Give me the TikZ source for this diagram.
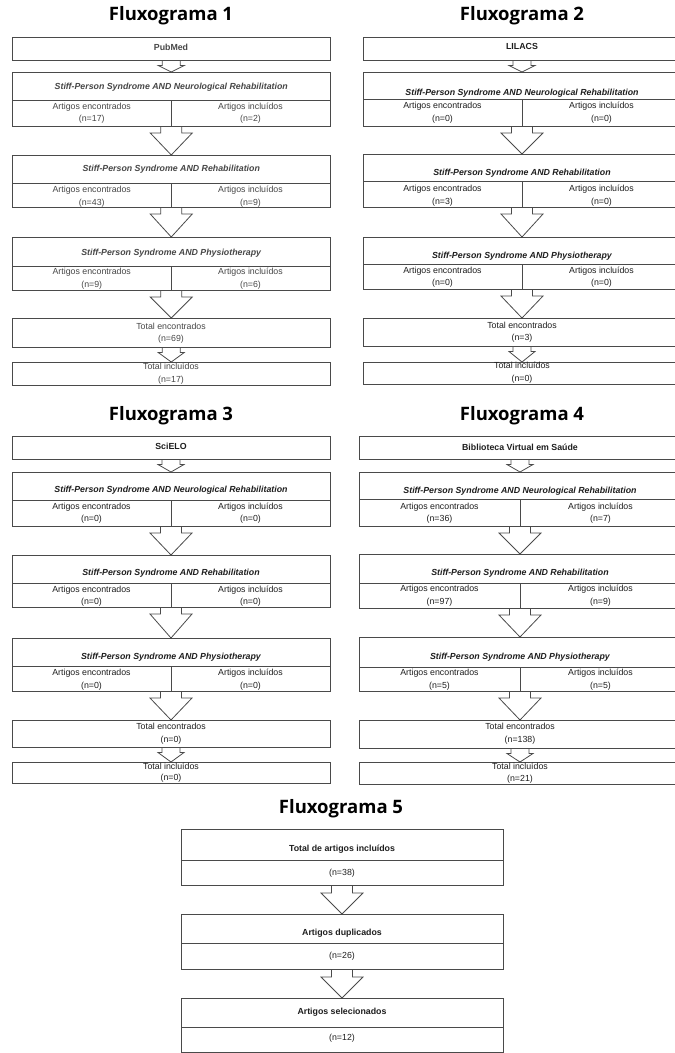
\documentclass[tikz,border=0pt]{standalone}
\usepackage{fontspec}
\setmainfont{Liberation Sans}
\newfontfamily\titlefont{Open Sans}
\usetikzlibrary{calc}
\pgfdeclarelayer{background}
\pgfsetlayers{background,main}
\definecolor{ln}{HTML}{4A4A4A}
\definecolor{tc}{HTML}{1E1E1E}
\tikzset{
  bx/.style={draw=ln, line width=0.8pt, inner sep=0pt, outer sep=0pt, rectangle},
  bl/.style={draw=ln, line width=0.8pt},
  tx/.style={font=\fontsize{8.8}{10}\selectfont, text=tc, inner sep=0pt, text height=6.3pt, text depth=1.8pt},
  ti/.style={tx, font=\fontsize{8.8}{10}\selectfont\bfseries\itshape},
  hd/.style={tx, font=\fontsize{8.8}{10}\selectfont\bfseries},
  ar/.style={draw=ln, line width=0.8pt, fill=white, line join=miter},
  ft/.style={font=\titlefont\bfseries\fontsize{18.5}{20}\selectfont, text=black, inner sep=0pt}
}
% name x1 x2 ytop ybot
\newcommand\mkbox[5]{\node[bx, anchor=north west, minimum width={(#3)-(#2)}, minimum height={(#5)-(#4)}] (#1) at (#2,#4) {};}
% name x1 xd x2 ytop ydiv ybot titley title
\newcommand\srch[9]{%
  \mkbox{#1}{#2}{#4}{#5}{#7}
  \draw[bl] (#2,#6) -- (#4,#6);
  \draw[bl] (#3,#6) -- (#3,#7);
  \node[ti] (#1-t) at ({(#2+#4)/2},#8) {#9};}
% name x1 xd x2 y1 y2 nl nr
\newcommand\cells[8]{%
  \node[tx] (#1-a) at ({(#2+#3)/2},#5) {Artigos encontrados};
  \node[tx] (#1-an) at ({(#2+#3)/2},#6) {#7};
  \node[tx] (#1-b) at ({(#3+#4)/2},#5) {Artigos incluídos};
  \node[tx] (#1-bn) at ({(#3+#4)/2},#6) {#8};}
% from to shafthalf headhalf shaftlen
\newcommand\barr[5]{%
  \draw[ar] ($(#1.south)+(-#3,0)$) -- ($(#1.south)+(-#3,#5)$) -- ($(#1.south)+(-#4,#5)$) -- (#2.north)
    -- ($(#1.south)+(#4,#5)$) -- ($(#1.south)+(#3,#5)$) -- ($(#1.south)+(#3,0)$);}
\newcommand\bigarr[2]{\barr{#1}{#2}{10.5}{21}{7}}
\newcommand\smallarr[2]{\barr{#1}{#2}{9}{13}{5.5}}
\begin{document}
\begin{tikzpicture}[x=1pt,y=-1pt]
\useasboundingbox (0,0) rectangle (675,1053);
\begin{pgfonlayer}{background}\fill[white] (0,0) rectangle (675,1053);\end{pgfonlayer}
\clip (0,0) rectangle (675,1053);

% ---------- Fluxograma 1 ----------
\begin{scope}
\colorlet{tc}{black!72}
\node[ft] (t1) at (171,16) {Fluxograma 1};
\mkbox{f1h}{12.5}{330}{37}{60}
\node[hd] (f1h-t) at (171,48) {PubMed};
\srch{f1a}{12.5}{171}{330}{72}{100}{126}{87}{Stiff-Person Syndrome AND Neurological Rehabilitation}
\cells{f1a}{12.5}{171}{330}{107}{119}{(n=17)}{(n=2)}
\srch{f1b}{12.5}{171}{330}{155}{183}{207}{169}{Stiff-Person Syndrome AND Rehabilitation}
\cells{f1b}{12.5}{171}{330}{190}{203}{(n=43)}{(n=9)}
\srch{f1c}{12.5}{171}{330}{237}{266}{290}{253}{Stiff-Person Syndrome AND Physiotherapy}
\cells{f1c}{12.5}{171}{330}{272}{285}{(n=9)}{(n=6)}
\mkbox{f1d}{12.5}{330}{318}{347}
\node[tx] (f1d-a) at (171,327) {Total encontrados};
\node[tx] (f1d-b) at (171,339) {(n=69)};
\mkbox{f1e}{12.5}{330}{362}{385}
\node[tx] (f1e-a) at (171,367) {Total incluídos};
\node[tx] (f1e-b) at (171,380) {(n=17)};
\end{scope}

% ---------- Fluxograma 2 ----------
\node[ft] (t2) at (522,16) {Fluxograma 2};
\mkbox{f2h}{363}{681}{37}{60}
\node[hd] (f2h-t) at (522,47.5) {LILACS};
\srch{f2a}{363}{522}{681}{72}{99}{126}{93}{Stiff-Person Syndrome AND Neurological Rehabilitation}
\cells{f2a}{363}{522}{681}{106.5}{119}{(n=0)}{(n=0)}
\srch{f2b}{363}{522}{681}{154}{181}{207}{173}{Stiff-Person Syndrome AND Rehabilitation}
\cells{f2b}{363}{522}{681}{189}{202}{(n=3)}{(n=0)}
\srch{f2c}{363}{522}{681}{237}{264}{289}{256}{Stiff-Person Syndrome AND Physiotherapy}
\cells{f2c}{363}{522}{681}{271}{283}{(n=0)}{(n=0)}
\mkbox{f2d}{363}{681}{318}{346}
\node[tx] (f2d-a) at (522,326) {Total encontrados};
\node[tx] (f2d-b) at (522,338) {(n=3)};
\mkbox{f2e}{363}{681}{362}{384}
\node[tx] (f2e-a) at (522,366.5) {Total incluídos};
\node[tx] (f2e-b) at (522,379) {(n=0)};

% ---------- Fluxograma 3 ----------
\node[ft] (t3) at (171,416) {Fluxograma 3};
\mkbox{f3h}{12}{330}{436}{459}
\node[hd] (f3h-t) at (171,447.5) {SciELO};
\srch{f3a}{12}{171}{330}{472}{500}{526}{490}{Stiff-Person Syndrome AND Neurological Rehabilitation}
\cells{f3a}{12}{171}{330}{507}{519}{(n=0)}{(n=0)}
\srch{f3b}{12}{171}{330}{555}{583}{607}{573}{Stiff-Person Syndrome AND Rehabilitation}
\cells{f3b}{12}{171}{330}{590}{602.5}{(n=0)}{(n=0)}
\srch{f3c}{12}{171}{330}{638}{666}{691}{657}{Stiff-Person Syndrome AND Physiotherapy}
\cells{f3c}{12}{171}{330}{673}{686}{(n=0)}{(n=0)}
\mkbox{f3d}{12}{330}{720}{747}
\node[tx] (f3d-a) at (171,727) {Total encontrados};
\node[tx] (f3d-b) at (171,740) {(n=0)};
\mkbox{f3e}{12}{330}{762}{783}
\node[tx] (f3e-a) at (171,767) {Total incluídos};
\node[tx] (f3e-b) at (171,778.5) {(n=0)};

% ---------- Fluxograma 4 ----------
\node[ft] (t4) at (522,416) {Fluxograma 4};
\mkbox{f4h}{359}{681}{436}{459}
\node[hd] (f4h-t) at (520,448) {Biblioteca Virtual em Saúde};
\srch{f4a}{359}{520}{681}{472}{499}{526}{491}{Stiff-Person Syndrome AND Neurological Rehabilitation}
\cells{f4a}{359}{520}{681}{507}{519}{(n=36)}{(n=7)}
\srch{f4b}{359}{520}{681}{554}{583}{608}{573}{Stiff-Person Syndrome AND Rehabilitation}
\cells{f4b}{359}{520}{681}{589.5}{602}{(n=97)}{(n=9)}
\srch{f4c}{359}{520}{681}{637}{667}{691}{657}{Stiff-Person Syndrome AND Physiotherapy}
\cells{f4c}{359}{520}{681}{673}{686}{(n=5)}{(n=5)}
\mkbox{f4d}{359}{681}{720}{748}
\node[tx] (f4d-a) at (520,727) {Total encontrados};
\node[tx] (f4d-b) at (520,740) {(n=138)};
\mkbox{f4e}{359}{681}{762}{784}
\node[tx] (f4e-a) at (520,767) {Total incluídos};
\node[tx] (f4e-b) at (520,779.5) {(n=21)};

% ---------- Fluxograma 5 ----------
\node[ft] (t5) at (341,809) {Fluxograma 5};
\mkbox{f5a}{181}{503}{829}{885}
\draw[bl] (181,860) -- (503,860);
\node[hd] (f5a-t) at (342,849) {Total de artigos incluídos};
\node[tx] (f5a-n) at (342,873) {(n=38)};
\mkbox{f5b}{181}{503}{914}{969}
\draw[bl] (181,943) -- (503,943);
\node[hd] (f5b-t) at (342,933) {Artigos duplicados};
\node[tx] (f5b-n) at (342,956) {(n=26)};
\mkbox{f5c}{181}{503}{998}{1052}
\draw[bl] (181,1027) -- (503,1027);
\node[hd] (f5c-t) at (342,1012) {Artigos selecionados};
\node[tx] (f5c-n) at (342,1038.5) {(n=12)};

% ---------- arrows ----------
\begin{pgfonlayer}{background}
\smallarr{f1h}{f1a} \bigarr{f1a}{f1b} \bigarr{f1b}{f1c} \bigarr{f1c}{f1d} \smallarr{f1d}{f1e}
\smallarr{f2h}{f2a} \bigarr{f2a}{f2b} \bigarr{f2b}{f2c} \bigarr{f2c}{f2d} \smallarr{f2d}{f2e}
\smallarr{f3h}{f3a} \bigarr{f3a}{f3b} \bigarr{f3b}{f3c} \bigarr{f3c}{f3d} \smallarr{f3d}{f3e}
\smallarr{f4h}{f4a} \bigarr{f4a}{f4b} \bigarr{f4b}{f4c} \bigarr{f4c}{f4d} \smallarr{f4d}{f4e}
\barr{f5a}{f5b}{10.5}{21}{8} \barr{f5b}{f5c}{10.5}{21}{8}
\end{pgfonlayer}
\end{tikzpicture}
\end{document}
